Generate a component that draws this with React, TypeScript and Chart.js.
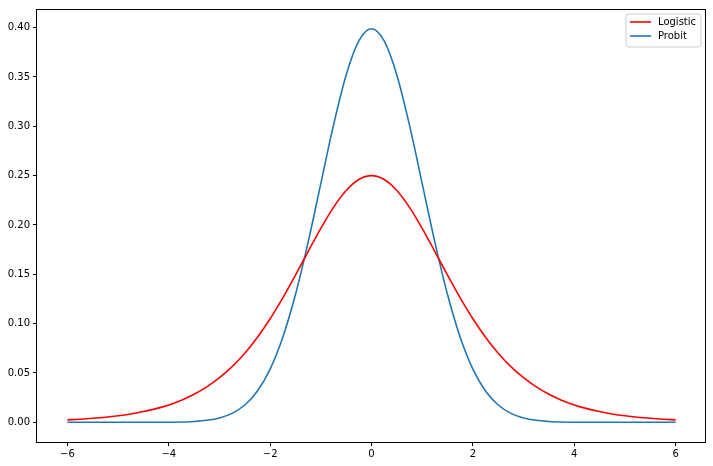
import React, { useEffect, useRef } from "react";
import { Chart, registerables } from "chart.js";

Chart.register(...registerables);

const xValues = [
  -6, -5.75, -5.5, -5.25, -5, -4.75, -4.5, -4.25, -4, -3.75, -3.5, -3.25, -3, -2.75, -2.5, -2.25,
  -2, -1.75, -1.5, -1.25, -1, -0.75, -0.5, -0.25, 0, 0.25, 0.5, 0.75, 1, 1.25, 1.5, 1.75, 2,
  2.25, 2.5, 2.75, 3, 3.25, 3.5, 3.75, 4, 4.25, 4.5, 4.75, 5, 5.25, 5.5, 5.75, 6,
];

const logisticValues = [
  0.00247, 0.00316, 0.00405, 0.00519, 0.00665, 0.0085, 0.01087, 0.01387, 0.01766, 0.02245,
  0.02845, 0.03593, 0.04518, 0.05645, 0.0701, 0.08627, 0.10499, 0.12613, 0.14915, 0.17311,
  0.19661, 0.21789, 0.235, 0.24613, 0.25, 0.24613, 0.235, 0.21789, 0.19661, 0.17311, 0.14915,
  0.12613, 0.10499, 0.08627, 0.0701, 0.05645, 0.04518, 0.03593, 0.02845, 0.02245, 0.01766,
  0.01387, 0.01087, 0.0085, 0.00665, 0.00519, 0.00405, 0.00316, 0.00247,
];

const probitValues = [
  0, 0, 0, 0, 0, 0.00001, 0.00002, 0.00005, 0.00013, 0.00035, 0.00087, 0.00203, 0.00443,
  0.00909, 0.01753, 0.03174, 0.05399, 0.08628, 0.12952, 0.18265, 0.24197, 0.30114, 0.35207,
  0.38667, 0.39894, 0.38667, 0.35207, 0.30114, 0.24197, 0.18265, 0.12952, 0.08628, 0.05399,
  0.03174, 0.01753, 0.00909, 0.00443, 0.00203, 0.00087, 0.00035, 0.00013, 0.00005, 0.00002,
  0.00001, 0, 0, 0, 0, 0,
];

const xTicks = [-6, -4, -2, 0, 2, 4, 6];
const yTicks = [0, 0.05, 0.1, 0.15, 0.2, 0.25, 0.3, 0.35, 0.4];
const seriesLabels = ["Logistic", "Probit"];
const seriesColors = ["#ff0000", "#1f77b4"];

const FONT = "DejaVu Sans";

const frameAndLegend = {
  id: "frameAndLegend",
  afterDraw(chart: any) {
    const ctx = chart.ctx;
    const a = chart.chartArea;
    ctx.save();
    ctx.strokeStyle = "#000";
    ctx.lineWidth = 1;
    ctx.strokeRect(Math.round(a.left) - 0.5, Math.round(a.top) + 0.5, Math.round(a.right - a.left) + 0, Math.round(a.bottom - a.top) - 0);
    // legend
    const bx = a.right - 5 - 75;
    const by = a.top + 5;
    const bw = 75;
    const bh = 33;
    const r = 3;
    ctx.beginPath();
    ctx.moveTo(bx + r, by);
    ctx.lineTo(bx + bw - r, by);
    ctx.arcTo(bx + bw, by, bx + bw, by + r, r);
    ctx.lineTo(bx + bw, by + bh - r);
    ctx.arcTo(bx + bw, by + bh, bx + bw - r, by + bh, r);
    ctx.lineTo(bx + r, by + bh);
    ctx.arcTo(bx, by + bh, bx, by + bh - r, r);
    ctx.lineTo(bx, by + r);
    ctx.arcTo(bx, by, bx + r, by, r);
    ctx.closePath();
    ctx.fillStyle = "rgba(255,255,255,0.8)";
    ctx.fill();
    ctx.strokeStyle = "#cccccc";
    ctx.lineWidth = 1;
    ctx.stroke();
    chart.data.datasets.forEach((ds: any, i: number) => {
      const y = by + 8 + i * 14;
      ctx.beginPath();
      ctx.moveTo(bx + 4, y);
      ctx.lineTo(bx + 25, y);
      ctx.strokeStyle = ds.borderColor;
      ctx.lineWidth = 1.6;
      ctx.stroke();
      ctx.fillStyle = "#000";
      ctx.font = `10px "${FONT}"`;
      ctx.textBaseline = "middle";
      ctx.textAlign = "left";
      ctx.fillText(ds.label, bx + 32, y);
    });
    ctx.restore();
  },
};

export default function App() {
  const ref = useRef<HTMLCanvasElement | null>(null);
  useEffect(() => {
    if (!ref.current) return;
    const mk = (vals: number[]) => xValues.map((x, i) => ({ x, y: vals[i] }));
    const chart = new Chart(ref.current, {
      type: "line",
      data: {
        datasets: [
          {
            label: seriesLabels[0],
            data: mk(logisticValues),
            borderColor: seriesColors[0],
            borderWidth: 1.6,
            pointRadius: 0,
            cubicInterpolationMode: "monotone",
            fill: false,
          },
          {
            label: seriesLabels[1],
            data: mk(probitValues),
            borderColor: seriesColors[1],
            borderWidth: 1.6,
            pointRadius: 0,
            cubicInterpolationMode: "monotone",
            fill: false,
          },
        ],
      },
      options: {
        responsive: false,
        animation: false,
        devicePixelRatio: 1,
        layout: { padding: { top: 7, right: 7, left: 0, bottom: 0 } },
        plugins: { legend: { display: false }, tooltip: { enabled: false } },
        scales: {
          x: {
            type: "linear",
            min: -6.6,
            max: 6.6,
            border: { display: false },
            grid: { drawOnChartArea: false, drawTicks: true, tickLength: 4, color: "#000" },
            afterBuildTicks: (s: any) => {
              s.ticks = xTicks.map((v) => ({ value: v }));
            },
            afterFit: (s: any) => {
              s.height = 24;
            },
            ticks: {
              color: "#000",
              padding: 2,
              maxRotation: 0,
              font: { family: FONT, size: 10 },
              callback: (v: any) => String(v).replace("-", "\u2212"),
            },
          },
          y: {
            type: "linear",
            min: -0.01995,
            max: 0.4189,
            border: { display: false },
            grid: { drawOnChartArea: false, drawTicks: true, tickLength: 4, color: "#000" },
            afterBuildTicks: (s: any) => {
              s.ticks = yTicks.map((v) => ({ value: v }));
            },
            afterFit: (s: any) => {
              s.width = 37;
            },
            ticks: {
              color: "#000",
              padding: 3,
              font: { family: FONT, size: 10 },
              callback: (v: any) => Number(v).toFixed(2),
            },
          },
        },
      },
      plugins: [frameAndLegend],
    } as any);
    return () => chart.destroy();
  }, []);
  return (
    <div style={{ position: "fixed", left: 0, top: 0, width: 713, height: 466, background: "#fff" }}>
      <canvas ref={ref} width={713} height={466} style={{ display: "block" }} />
    </div>
  );
}
